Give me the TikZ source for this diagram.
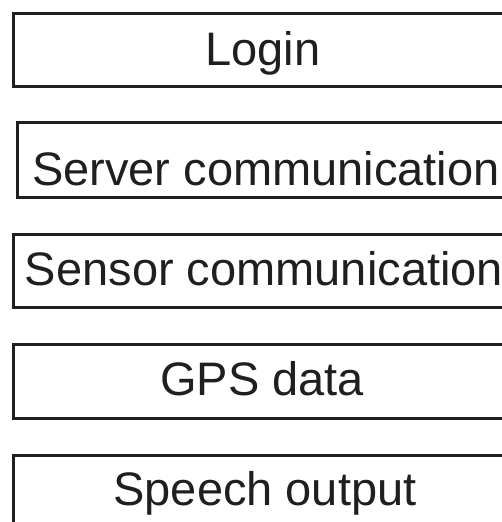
\documentclass[tikz,border=0pt]{standalone}
\usepackage{fontspec}
\setmainfont{Liberation Sans}
\begin{document}
\begin{tikzpicture}[x=1pt,y=-1pt,
  layerbox/.style={draw=black!88,line width=3pt,rectangle,inner sep=0pt},
  layertext/.style={anchor=base,inner sep=0pt,text=black!88,font=\fontsize{47}{50}\selectfont}]
\useasboundingbox (0,0) rectangle (502,522);
\begin{scope}
\clip (0,0) rectangle (502,522);
\draw[layerbox] (13,13) rectangle (520,86.5);
\draw[layerbox] (17.5,122.7) rectangle (520,197);
\draw[layerbox] (13.3,234) rectangle (520,307.7);
\draw[layerbox] (13.3,344.3) rectangle (520,418.3);
\draw[layerbox] (13.3,455) rectangle (520,540);
\end{scope}
\node[layertext] (login) at (263,65) {Login};
\node[layertext] (server) at (266,185) {Server communication};
\node[layertext] (sensor) at (264,285) {Sensor communication};
\node[layertext] (gps) at (262,395) {GPS data};
\node[layertext] (speech) at (265,505) {Speech output};
\end{tikzpicture}
\end{document}
